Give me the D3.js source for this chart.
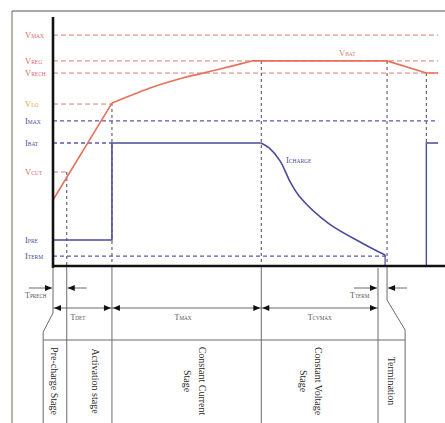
<!DOCTYPE html>
<html><head><meta charset="utf-8">
<script src="https://cdn.jsdelivr.net/npm/d3@7"></script>
<style>html,body{margin:0;padding:0;background:#fff;}svg{display:block;}</style>
</head><body>
<script>
// ---- data ----
const levelLabels = ["VMAX","VREG","VRECH","VLO","IMAX","IBAT","VCUT","IPRE","ITERM"];
const levelValues = [93.1, 82.7, 77.8, 65.3, 58.5, 49.6, 37.9, 10.5, 4.0];
const levelEnds   = [98, 98, 98, 15, 98, 15, 3.5, 0, 85];

const vbatT = [0, 15, 24.7, 33, 42.5, 50.6, 85, 95, 98];
const vbatV = [26.6, 65.7, 71.8, 75.8, 79.4, 82.7, 82.7, 77.8, 77.8];

const ichgT = [0, 15, 15, 52.9, 55, 57.8, 60.5, 63, 70, 78.6, 84.5, 84.5];
const ichgV = [10.5, 10.5, 49.6, 49.6, 47.6, 42.3, 33.5, 27.5, 17.3, 9.3, 4.4, 0];
const restartT = [95, 95, 98];
const restartV = [0, 49.6, 49.6];

const markerT = [3.5, 15, 53, 85, 95];          // vertical dashed guides
const markerFrom = [37.9, 65.7, 82.7, 82.7, 77.8];

const stageNames = [["Pre-charge Stage"],["Activation stage"],["Constant Current","Stage"],["Constant Voltage","Stage"],["Termination"]];
const stageBounds = [-2.5, 3.5, 15, 53, 82.7, 89.6];

const timerNames = ["TPRECH","TDET","TMAX","TCVMAX","TTERM"];
const timerStart = [0, 0, 15, 53, 82.7];
const timerEnd   = [3.5, 15, 53, 82.7, 85];
const timerOutside = [true, false, false, false, true];

// ---- drawing ----
const W = 445, H = 423;
const svg = d3.select("body").append("svg").attr("width", W).attr("height", H);
const x = d3.scaleLinear().domain([0, 100]).range([53, 446]);
const y = d3.scaleLinear().domain([0, 100]).range([266, 18]);

const RED = "#e8705a", RDASH = "#e07a78", BLUE = "#4b4b9b", GREY = "#555a66";

// frame
svg.append("line").attr("x1",12).attr("x2",12).attr("y1",11).attr("y2",H).attr("stroke","#8a7f70").attr("stroke-width",1.2);
svg.append("line").attr("x1",12).attr("x2",W).attr("y1",11).attr("y2",11).attr("stroke","#5a5048").attr("stroke-width",1.2);

// level dashed lines
levelLabels.forEach((lab, i) => {
  const isV = lab[0] === "V";
  if (levelEnds[i] > 0) {
    svg.append("line").attr("x1", x(0)).attr("x2", x(levelEnds[i]))
      .attr("y1", y(levelValues[i])).attr("y2", y(levelValues[i]))
      .attr("stroke", isV ? RDASH : "#5a5ab0").attr("stroke-width", isV ? 1 : 1.4)
      .attr("stroke-dasharray", isV ? "5,3" : "4,3");
  }
  const col = lab === "VLO" ? "#e99a4a" : (isV ? "#d8666a" : BLUE);
  const t = svg.append("text").attr("x", 25).attr("y", y(levelValues[i]) + 3)
    .attr("fill", col).attr("font-family", "Liberation Serif").attr("font-size", 8.5);
  t.append("tspan").text(lab[0]);
  t.append("tspan").attr("font-size", 5.5).text(lab.slice(1));
});

// vertical dashed guides
markerT.forEach((t, i) => {
  svg.append("line").attr("x1", x(t)).attr("x2", x(t))
    .attr("y1", y(markerFrom[i])).attr("y2", i === 4 ? y(49.6) : y(0))
    .attr("stroke", GREY).attr("stroke-width", 1.1).attr("stroke-dasharray", "3,3");
});

// curves
const line = d3.line().x(d => x(d[0])).y(d => y(d[1]));
const curvy = d3.line().x(d => x(d[0])).y(d => y(d[1])).curve(d3.curveCatmullRom.alpha(0.5));
const vb = vbatT.map((t, i) => [t, vbatV[i]]);
svg.append("path").attr("d", line(vb.slice(0, 2)) ).attr("fill","none").attr("stroke",RED).attr("stroke-width",1.6);
svg.append("path").attr("d", curvy(vb.slice(1, 6))).attr("fill","none").attr("stroke",RED).attr("stroke-width",1.6);
svg.append("path").attr("d", line(vb.slice(5))).attr("fill","none").attr("stroke",RED).attr("stroke-width",1.6);

const ic = ichgT.map((t, i) => [t, ichgV[i]]);
svg.append("path").attr("d", line(ic.slice(0, 4))).attr("fill","none").attr("stroke",BLUE).attr("stroke-width",1.6);
svg.append("path").attr("d", curvy(ic.slice(3, 11))).attr("fill","none").attr("stroke",BLUE).attr("stroke-width",1.6);
svg.append("path").attr("d", line(ic.slice(10))).attr("fill","none").attr("stroke",BLUE).attr("stroke-width",1.2);
svg.append("path").attr("d", line(restartT.map((t, i) => [t, restartV[i]]))).attr("fill","none").attr("stroke",BLUE).attr("stroke-width",1.4);

// curve labels
const lab2 = (tx, ty, main, sub, col) => {
  const t = svg.append("text").attr("x", tx).attr("y", ty).attr("fill", col)
    .attr("font-family","Liberation Serif").attr("font-size", 8.5);
  t.append("tspan").text(main); t.append("tspan").attr("font-size",5.5).text(sub);
};
lab2(339, 56, "V", "BAT", "#e07a70");
lab2(286, 163, "I", "CHARGE", BLUE);

// axes
svg.append("line").attr("x1", 53).attr("x2", 53).attr("y1", 17).attr("y2", 268).attr("stroke","#111").attr("stroke-width",2.6);
svg.append("line").attr("x1", 52).attr("x2", W).attr("y1", y(0)).attr("y2", y(0)).attr("stroke","#111").attr("stroke-width",2.4);

// ---- bottom timing / stage table ----
const G = "#6a6a6a";
const vl = (t, y1, y2) => svg.append("line").attr("x1", x(t)).attr("x2", x(t)).attr("y1", y1).attr("y2", y2).attr("stroke", G).attr("stroke-width", 1);
vl(0, 267, 313); vl(stageBounds[1], 267, H); vl(stageBounds[2], 267, H); vl(stageBounds[3], 267, H);
vl(stageBounds[4], 268, H); vl(85, 267, 300);
vl(stageBounds[0], 332, H); vl(stageBounds[5], 330, H);
svg.append("line").attr("x1", x(0)).attr("y1", 313).attr("x2", x(stageBounds[0])).attr("y2", 332).attr("stroke", G);
svg.append("line").attr("x1", x(85)).attr("y1", 300).attr("x2", x(stageBounds[5])).attr("y2", 330).attr("stroke", G);
svg.append("line").attr("x1", x(stageBounds[0])).attr("x2", x(stageBounds[5])).attr("y1", 340).attr("y2", 340).attr("stroke", G);

// arrowheads
const head = (px, py, dir) => svg.append("path")
  .attr("d", `M${px},${py} L${px - dir*7},${py - 3} L${px - dir*7},${py + 3} Z`).attr("fill", "#111");

timerNames.forEach((nm, i) => {
  const a = x(timerStart[i]), b = x(timerEnd[i]);
  let lx, ly;
  if (timerOutside[i]) {
    const yy = 288;
    svg.append("line").attr("x1", a - 24).attr("x2", a - 1).attr("y1", yy).attr("y2", yy).attr("stroke", G);
    svg.append("line").attr("x1", b + 1).attr("x2", b + 20).attr("y1", yy).attr("y2", yy).attr("stroke", G);
    head(a - 1, yy, 1); head(b + 1, yy, -1);
    lx = a - 28; ly = 298;
  } else {
    const yy = 308;
    svg.append("line").attr("x1", a).attr("x2", b).attr("y1", yy).attr("y2", yy).attr("stroke", G);
    head(a + 1, yy, -1); head(b - 1, yy, 1);
    lx = (a + b) / 2 - 12; ly = 320;
  }
  const t = svg.append("text").attr("x", lx).attr("y", ly).attr("fill", "#555")
    .attr("font-family", "Liberation Serif").attr("font-size", 8);
  t.append("tspan").text(nm[0]); t.append("tspan").attr("font-size", 5.2).text(nm.slice(1));
});

// stage names (rotated, top-to-bottom)
const stageShift = [0, 6, 8, -9, 0];
stageNames.forEach((lines, i) => {
  const cx = (x(stageBounds[i]) + x(stageBounds[i + 1])) / 2 + stageShift[i];
  const cy = 381;
  lines.forEach((s, j) => {
    const off = (lines.length - 1) * 7.5 - j * 15;
    svg.append("text").attr("transform", `translate(${cx + off - 3.5},${cy}) rotate(90)`)
      .attr("text-anchor", "middle").attr("font-family", "Liberation Serif").attr("font-size", 10)
      .attr("fill", "#2a2a2a").text(s);
  });
});
</script>
</body></html>
